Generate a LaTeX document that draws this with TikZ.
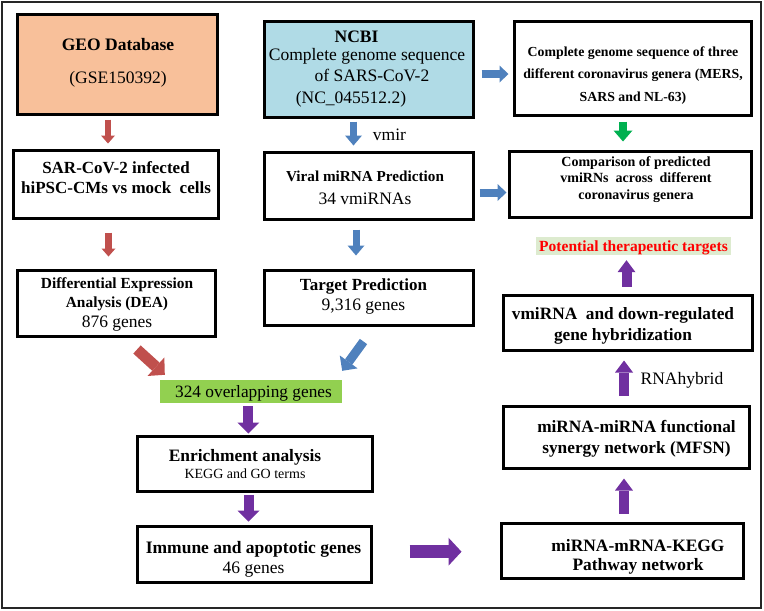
\documentclass[tikz,border=0pt]{standalone}
\usepackage{fontspec}
\setmainfont{Liberation Serif}
\usetikzlibrary{arrows.meta}
\definecolor{geofill}{HTML}{F8C09A}
\definecolor{ncbifill}{HTML}{B0DBE6}
\definecolor{ovfill}{HTML}{92D050}
\definecolor{potfill}{HTML}{DDEBCF}
\definecolor{redA}{HTML}{C0504D}
\definecolor{blueA}{HTML}{4F81BD}
\definecolor{greenA}{HTML}{00B050}
\definecolor{purpA}{HTML}{7030A0}
\begin{document}
\begin{tikzpicture}[x=1pt,y=-1pt,
  box/.style={draw=black, line width=3pt, inner sep=0pt},
  txt/.style={align=center, inner sep=0pt},
  redarr/.style={draw=redA, line width=6.5pt, -{Triangle[length=8pt,width=14pt,line width=0pt]}},
  bluev/.style={draw=blueA, line width=7pt, -{Triangle[length=10pt,width=17pt,line width=0pt]}},
  blueh/.style={draw=blueA, line width=8pt, -{Triangle[length=9pt,width=17pt,line width=0pt]}},
  greenarr/.style={draw=greenA, line width=8pt, -{Triangle[length=11pt,width=19pt,line width=0pt]}},
  purpup/.style={draw=purpA, line width=10pt, -{Triangle[length=12pt,width=18pt,line width=0pt]}},
  purpdown/.style={draw=purpA, line width=10pt, -{Triangle[length=11pt,width=22pt,line width=0pt]}},
  purpright/.style={draw=purpA, line width=13pt, -{Triangle[length=13pt,width=28pt,line width=0pt]}},
  reddiag/.style={draw=redA, line width=11pt, -{Triangle[length=12pt,width=25pt,line width=0pt]}},
  bluediag/.style={draw=blueA, line width=9pt, -{Triangle[length=11pt,width=22pt,line width=0pt]}}
]
\useasboundingbox (0,0) rectangle (764,611);
\draw[line width=1.3pt, black!85] (2,2) rectangle (761,608);

% boxes
\node[box, fill=geofill, minimum width=200pt, minimum height=100pt] (geo) at (117,64) {};
\node[box, minimum width=205pt, minimum height=68pt] (sar) at (115.5,184) {};
\node[box, minimum width=198pt, minimum height=66pt] (dea) at (116,303) {};
\node[box, fill=ncbifill, minimum width=209pt, minimum height=96pt] (ncbi) at (368.5,69) {};
\node[box, minimum width=209pt, minimum height=67pt] (viral) at (368.5,185.5) {};
\node[box, minimum width=209pt, minimum height=55pt] (target) at (368.5,297.5) {};
\node[box, minimum width=237pt, minimum height=94pt] (complete) at (632.5,68) {};
\node[box, minimum width=242pt, minimum height=66pt] (comparison) at (630,184) {};
\node[fill=potfill, minimum width=195pt, minimum height=18pt, inner sep=0pt, text depth=0pt, text=red,
      font=\fontsize{15.5}{18}\selectfont\bfseries] (pot) at (633.5,246) {Potential therapeutic targets};
\node[box, minimum width=249pt, minimum height=55pt] (hybrid) at (627.5,322.5) {};
\node[box, minimum width=246pt, minimum height=62pt] (mfsn) at (626,437) {};
\node[box, minimum width=242pt, minimum height=55pt] (kegg) at (622,550.5) {};
\node[fill=ovfill, minimum width=182pt, minimum height=23pt, inner sep=0pt, text depth=0pt,
      font=\fontsize{17.3}{20}\selectfont] (overlap) at (251,391.5) {\hspace*{5pt}324 overlapping genes};
\node[box, minimum width=235pt, minimum height=55pt] (enrich) at (254.5,463.5) {};
\node[box, minimum width=234pt, minimum height=56pt] (immune) at (254,554) {};

% texts
\node[txt, font=\fontsize{17.5}{33}\selectfont] (geo-t) at (118,62.4)
  {\textbf{GEO Database}\\(GSE150392)};
\node[txt, font=\fontsize{17}{20}\selectfont\bfseries] (sar-t) at (116,177.3)
  {SAR-CoV-2 infected\\hiPSC-CMs vs mock\ \ cells};
\node[txt, font=\fontsize{17.5}{19.5}\selectfont] (dea-t) at (117,304)
  {{\fontsize{15.4}{19.5}\selectfont\bfseries Differential Expression}\\{\fontsize{15.4}{19.5}\selectfont\bfseries Analysis (DEA)}\\876 genes};
\node[txt, font=\fontsize{17.5}{21.5}\selectfont] (ncbi-t) at (367,69)
  {\textbf{NCBI}\hspace*{21pt}\\[-4pt]Complete genome sequence\\\hspace*{10pt}of SARS-CoV-2\\(NC\_045512.2)\hspace*{32pt}};
\node[txt, font=\fontsize{17.5}{23}\selectfont] (viral-t) at (365,188.3)
  {{\fontsize{15.2}{23}\selectfont\bfseries Viral miRNA Prediction}\\34 vmiRNAs};
\node[txt, font=\fontsize{17.5}{20}\selectfont] (target-t) at (363.5,296.1)
  {{\fontsize{17}{20}\selectfont\bfseries Target Prediction}\\9,316 genes};
\node[txt, font=\fontsize{13.8}{22.5}\selectfont\bfseries] (complete-t) at (633,75.6)
  {Complete genome sequence of three\\different coronavirus genera (MERS,\\SARS and NL-63)};
\node[txt, font=\fontsize{14}{16.5}\selectfont\bfseries] (comparison-t) at (636,179.5)
  {Comparison of predicted\\vmiRNs\ \ across\ \ different\\coronavirus genera};
\node[txt, font=\fontsize{17.3}{21}\selectfont\bfseries] (hybrid-t) at (623,325.5)
  {vmiRNA\ \ and down-regulated\\gene hybridization};
\node[txt, font=\fontsize{17.3}{20.7}\selectfont\bfseries] (mfsn-t) at (636.5,439)
  {miRNA-miRNA functional\\synergy network (MFSN)};
\node[txt, font=\fontsize{17.4}{19}\selectfont\bfseries] (kegg-t) at (638,556.5)
  {miRNA-mRNA-KEGG\\Pathway network};
\node[txt, font=\fontsize{17.4}{16.7}\selectfont] (enrich-t) at (245,464)
  {\textbf{Enrichment analysis}\\{\fontsize{14}{16.7}\selectfont KEGG and GO terms}};
\node[txt, font=\fontsize{17.5}{19.4}\selectfont] (immune-t) at (253.5,559.5)
  {\textbf{Immune and apoptotic genes}\\46 genes};

% labels
\node[txt, font=\fontsize{17.5}{20}\selectfont] (vmir) at (389.5,135) {vmir};
\node[txt, font=\fontsize{17.5}{20}\selectfont] (rnahybrid) at (682,380) {RNAhybrid};

% connectors
\draw[redarr] ([xshift=-9pt,yshift=-4pt]geo.south) -- ([xshift=-9pt,yshift=5pt]geo.south |- sar.north);
\draw[redarr] ([xshift=-7pt,yshift=-13pt]sar.south) -- ([xshift=-7pt,yshift=12pt]sar.south |- dea.north);
\draw[bluev] ([xshift=-15pt,yshift=-3pt]ncbi.south) -- ([xshift=-15pt,yshift=5pt]ncbi.south |- viral.north);
\draw[bluev] ([xshift=-12.5pt,yshift=-9pt]viral.south) -- ([xshift=-12.5pt,yshift=13pt]viral.south |- target.north);
\draw[blueh] ([xshift=7pt,yshift=-5pt]ncbi.east) -- ([xshift=-4pt,yshift=-5pt]ncbi.east -| complete.west);
\draw[blueh] ([xshift=5pt,yshift=-7pt]viral.east) -- ([xshift=-1pt,yshift=-7pt]viral.east -| comparison.west);
\draw[greenarr] ([xshift=-9.5pt,yshift=-5pt]complete.south) -- ([xshift=-9.5pt,yshift=8pt]complete.south |- comparison.north);
\draw[purpup] ([xshift=-1pt,yshift=7pt]hybrid.north) -- ([xshift=-1pt,yshift=-5pt]hybrid.north |- pot.south);
\draw[purpup] ([xshift=-2pt,yshift=9pt]mfsn.north) -- ([xshift=-2pt,yshift=-9pt]mfsn.north |- hybrid.south);
\draw[purpup] ([xshift=2pt,yshift=8pt]kegg.north) -- ([xshift=2pt,yshift=-9pt]kegg.north |- mfsn.south);
\draw[purpright] ([xshift=37pt,yshift=2.3pt]immune.east) -- ([xshift=-38pt,yshift=2.3pt]immune.east -| kegg.west);
\draw[reddiag] ([xshift=21pt,yshift=-12pt]dea.south) -- ([xshift=5pt,yshift=5pt]overlap.north west);
\draw[bluediag] ([xshift=-5pt,yshift=-15pt]target.south) -- ([xshift=0pt,yshift=9pt]overlap.north east);
\draw[purpdown] ([xshift=-2.7pt,yshift=-3pt]overlap.south) -- ([xshift=-2.7pt,yshift=1pt]overlap.south |- enrich.north);
\draw[purpdown] ([xshift=-6pt,yshift=-2.3pt]enrich.south) -- ([xshift=-6pt,yshift=3pt]enrich.south |- immune.north);
\end{tikzpicture}
\end{document}
